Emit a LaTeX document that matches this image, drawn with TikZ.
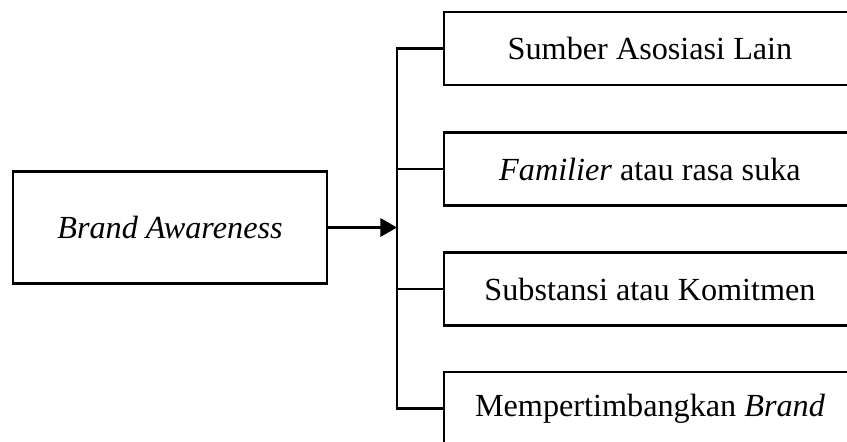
\documentclass[tikz,border=0pt]{standalone}
\usepackage{fontspec}
\setmainfont{Liberation Serif}
\usetikzlibrary{arrows.meta,positioning}

\begin{document}
\begin{tikzpicture}[x=0.03cm,y=-0.03cm]
    \tikzset{mainbox/.style = {shape=rectangle,draw,line width=2.2pt,minimum width=9.42cm,minimum height=3.36cm, inner sep=0pt, font=\fontsize{27.5}{33}\selectfont}}
    \tikzset{itembox/.style = {mainbox,minimum width=12.36cm,minimum height=2.19cm}}
    \tikzset{edge/.style = {-{Triangle[length=0.5cm,width=0.55cm]}, line width=2.2pt}}
    \tikzset{edgeun/.style = {-, line width=2.2pt}}

    \clip (0,0) rectangle (847,441);

    \node[mainbox] (A) at (170, 227.5) {\textit{Brand Awareness}};
    \coordinate (hub) at (397, 227.5);

    \node[itembox] (S1) at (650, 48.5) {Sumber Asosiasi Lain};
    \node[itembox] (S2) at (650, 169) {\textit{Familier} atau rasa suka};
    \node[itembox] (S3) at (650, 289) {Substansi atau Komitmen};
    \node[itembox] (S4) at (650, 408.5) {Mempertimbangkan \textit{Brand}};

    \draw[edge] (A) -- (hub);
    \draw[edgeun] (S1.west) -- (S1.west -| hub) -- (S4.west -| hub) -- (S4.west);
    \draw[edgeun] (S2.west) -- (S2.west -| hub);
    \draw[edgeun] (S3.west) -- (S3.west -| hub);

\end{tikzpicture}
\end{document}
